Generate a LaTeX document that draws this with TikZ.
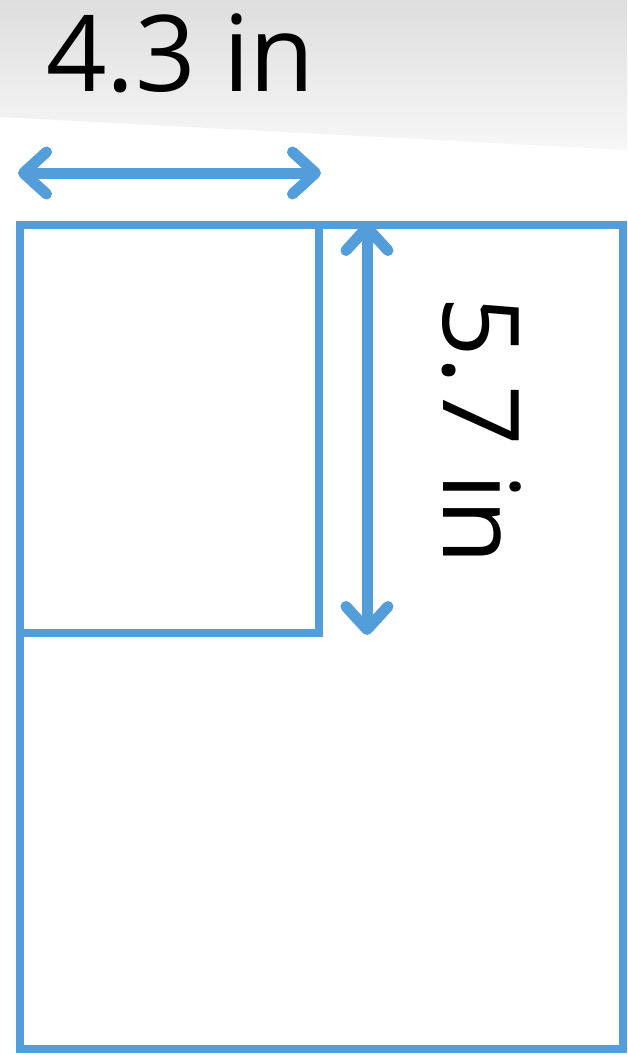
\documentclass[tikz,border=0pt]{standalone}
\usepackage{fontspec}
\setmainfont{Open Sans}
\usetikzlibrary{arrows.meta}
\definecolor{dimblue}{HTML}{539DDB}
\begin{document}
\begin{tikzpicture}[x=1pt,y=-1pt,
  frame/.style={draw=dimblue,line width=8pt,line join=miter},
  dimarrow/.style={draw=dimblue,line width=11pt,line cap=round,
    {Straight Barb[round,length=23pt,width=42pt]}-{Straight Barb[round,length=23pt,width=42pt]}},
  dimlabel/.style={font=\fontsize{106}{120}\selectfont,inner sep=0pt,text=black}]
\useasboundingbox (0,0) rectangle (627,1055);
\fill[white] (0,0) rectangle (627,1055);
\shade[top color={rgb,255:red,222;green,222;blue,222},bottom color={rgb,255:red,247;green,247;blue,247}]
  (0,0) -- (627,0) -- (627,150) -- (0,117) -- cycle;
% frames
\coordinate (bigTL) at (20,225);
\coordinate (bigBR) at (623,1049);
\coordinate (smallBR) at (319,633);
\draw[frame] (bigTL) rectangle (bigBR);
\draw[frame] (bigTL) rectangle (smallBR);
% dimension arrows
\coordinate (hL) at (18,173);
\coordinate (hR) at (321,173);
\coordinate (vT) at (367,222);
\coordinate (vB) at (367,635);
\draw[dimarrow] (hL) -- (hR);
\draw[dimarrow] (vT) -- (vB);
% labels
\node[dimlabel,anchor=base west] (wlabel) at (46,91) {4.3 in};
\node[dimlabel,anchor=base west,rotate=-90] (hlabel) at (443,296) {5.7 in};
\end{tikzpicture}
\end{document}
